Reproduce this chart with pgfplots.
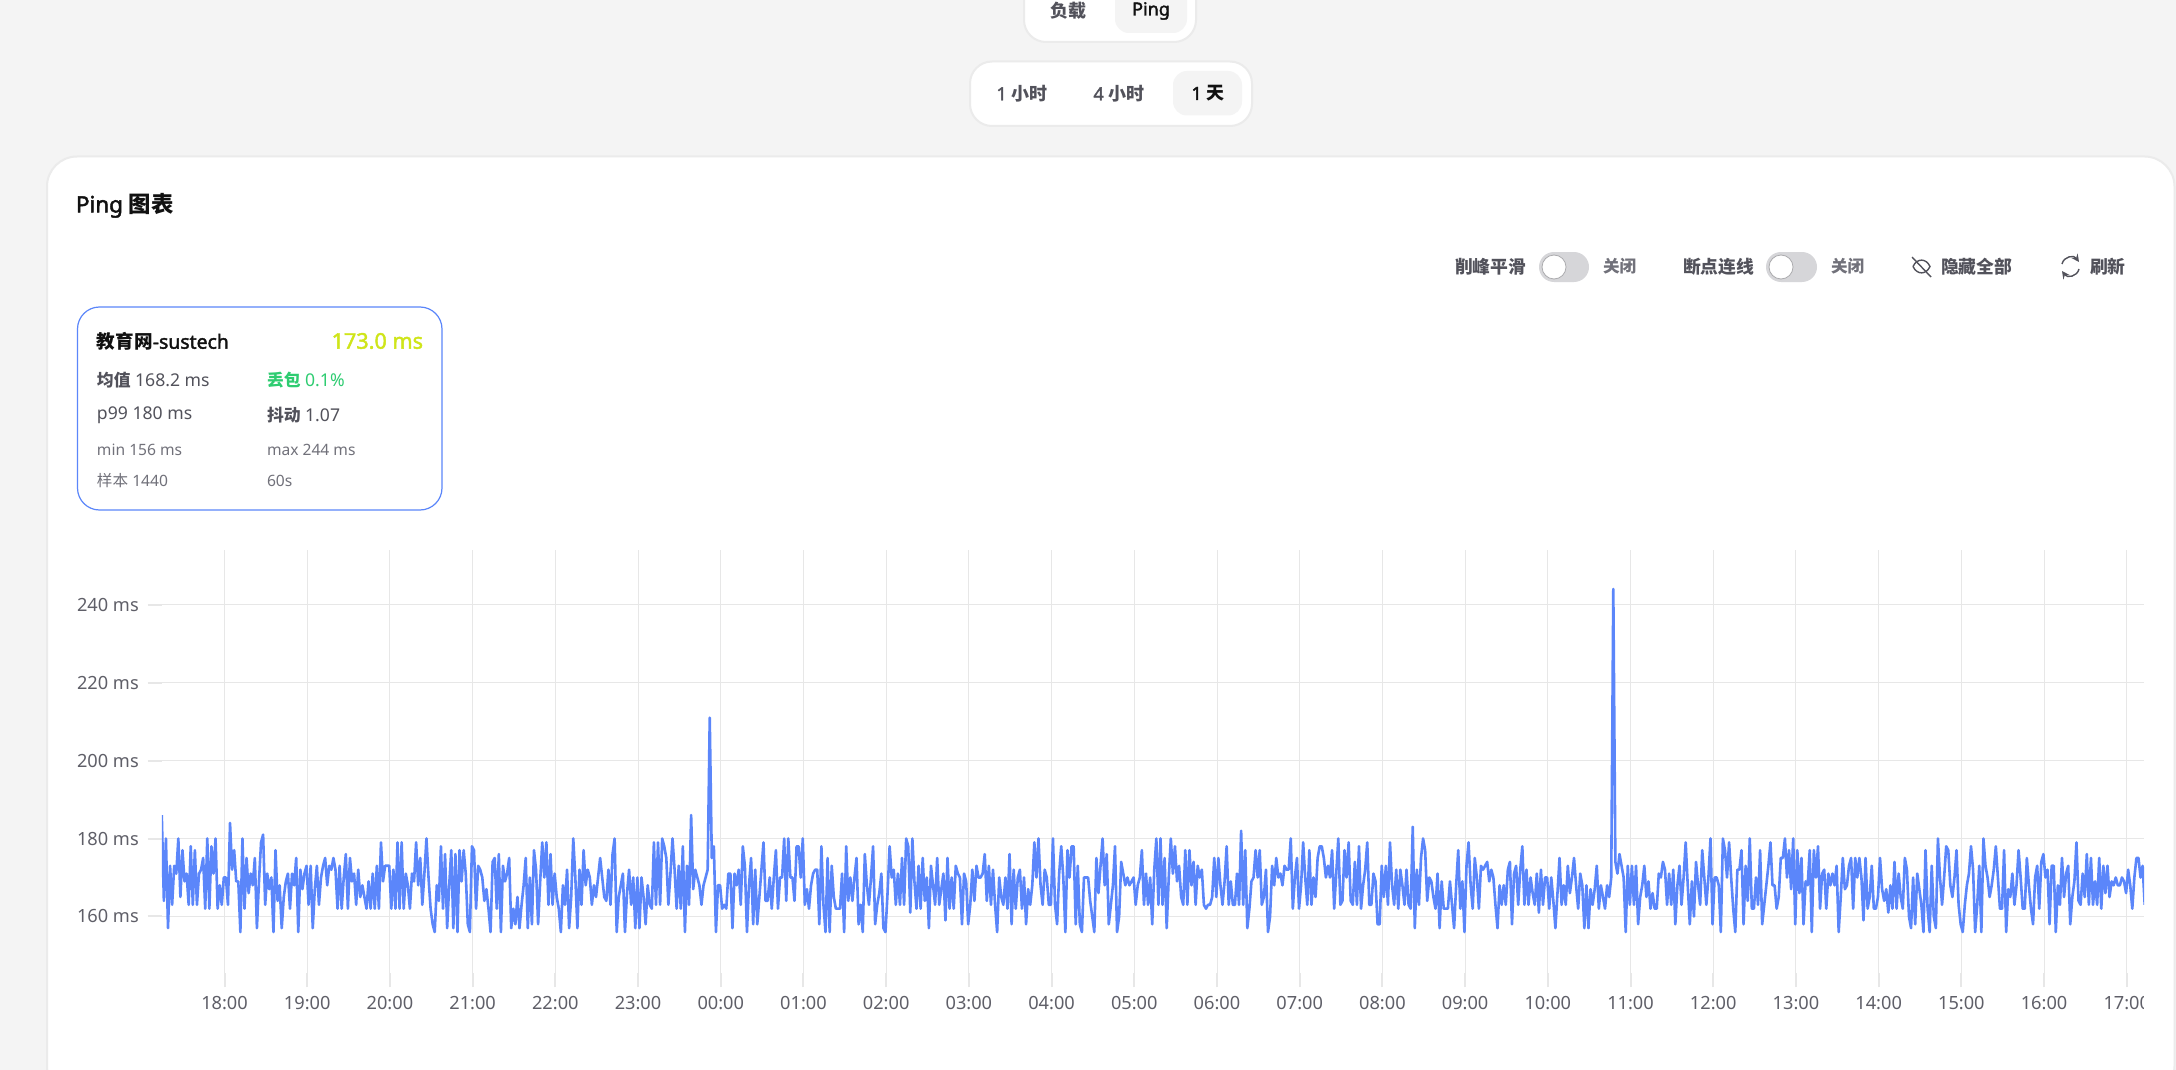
\documentclass[border=0pt]{standalone}
\usepackage{fontspec}
\usepackage{pgfplots}
\pgfplotsset{compat=1.18}
\setmainfont{Noto Sans}[BoldFont=Noto Sans,BoldFeatures={FakeBold=2}]
\newfontfamily\cjk{Noto Sans CJK SC}
\newcommand\fs[1]{\fontsize{#1}{#1}\selectfont}
\definecolor{bg}{HTML}{F4F4F4}
\definecolor{edge}{HTML}{EBEBEB}
\definecolor{gridc}{HTML}{E7E7E7}
\definecolor{tick}{HTML}{5F5F68}
\definecolor{ink}{HTML}{111111}
\definecolor{mid}{HTML}{52525B}
\definecolor{soft}{HTML}{71717A}
\definecolor{blue}{HTML}{5B86FA}
\definecolor{lime}{HTML}{CFE519}
\definecolor{green}{HTML}{2ECC71}
\definecolor{tog}{HTML}{D6D6D9}
\begin{document}
\begin{tikzpicture}
\path[use as bounding box] (0,0) rectangle (1088pt,-535pt);
\clip (0,0) rectangle (1088pt,-535pt);
\fill[bg] (0,0) rectangle (1088pt,-535pt);
\begin{scope}[x=0.5pt,y=-0.5pt,every node/.style={inner sep=0pt,outer sep=0pt}]
% top tabs
\draw[edge,fill=white,line width=1pt,rounded corners=11pt] (1024,-40) rectangle (1196,42);
\fill[bg,rounded corners=7pt] (1115,-30) rectangle (1187,33);
\node[mid] at (1068,11) {\fs{9}\cjk\bfseries 负载};
\node[ink] at (1151,11) {\fs{9}\bfseries Ping};
\draw[edge,fill=white,line width=1pt,rounded corners=11pt] (970,61.5) rectangle (1252,126);
\fill[bg,rounded corners=7pt] (1173,71) rectangle (1242,115.5);
\node[mid] at (1022,93.5) {\fs{9}\bfseries 1 {\cjk 小时}};
\node[mid] at (1119,93.5) {\fs{9}\bfseries 4 {\cjk 小时}};
\node[ink] at (1208,93.5) {\fs{9}\bfseries 1 {\cjk 天}};
% main card
\draw[edge,fill=white,line width=1pt,rounded corners=15pt] (47,156.5) rectangle (2174.5,1096);
\node[ink,anchor=west] at (76,205.5) {\fs{11.2}\bfseries Ping {\cjk 图表}};
% toggles row
\node[mid,anchor=west] at (1455,266.5) {\fs{8.9}\cjk\bfseries 削峰平滑};
\fill[tog,rounded corners=7.5pt] (1539,252) rectangle (1589,282);
\draw[tog!80!black,fill=white,line width=0.4pt] (1554,267) circle (12);
\node[soft,anchor=west] at (1603,266.5) {\fs{8.3}\cjk\bfseries 关闭};
\node[mid,anchor=west] at (1683,266.5) {\fs{8.9}\cjk\bfseries 断点连线};
\fill[tog,rounded corners=7.5pt] (1766,252) rectangle (1817,282);
\draw[tog!80!black,fill=white,line width=0.4pt] (1781,267) circle (12);
\node[soft,anchor=west] at (1831,266.5) {\fs{8.3}\cjk\bfseries 关闭};
% eye-off icon
\draw[mid,line width=0.7pt] (1913,266.5) .. controls (1917,258) and (1926,258) .. (1930,266.5) .. controls (1926,275) and (1917,275) .. (1913,266.5);
\draw[mid,line width=0.7pt] (1912,257) -- (1931,277);
\node[mid,anchor=west] at (1941,266.5) {\fs{8.9}\cjk\bfseries 隐藏全部};
% refresh icon
\draw[mid,line width=0.7pt,-stealth] (2062,264) .. controls (2064,256) and (2074,255) .. (2079,262);
\draw[mid,line width=0.7pt,-stealth] (2079,269) .. controls (2077,277) and (2067,278) .. (2062,271);
\node[mid,anchor=west] at (2090,266.5) {\fs{8.9}\cjk\bfseries 刷新};
% stat card
\draw[blue,fill=white,line width=0.6pt,rounded corners=11pt] (77.5,307) rectangle (442,510);
\node[ink,anchor=west] at (97,341.5) {\fs{9.3}\bfseries {\cjk 教育网}\fs{9.7}-sustech};
\node[lime,anchor=east] at (423,341) {\fs{10.8}\bfseries 173.0 ms};
\node[mid,anchor=west] at (97,380) {\fs{8.8}{\cjk\fs{8.4}\bfseries 均值} 168.2 ms};
\node[green,anchor=west] at (267,380) {\fs{8.8}{\cjk\fs{8.4}\bfseries 丢包} 0.1\%};
\node[mid,anchor=west] at (97,415) {\fs{8.8}p99 180 ms};
\node[mid,anchor=west] at (267,415) {\fs{8.8}{\cjk\fs{8.4}\bfseries 抖动} 1.07};
\node[soft,anchor=west] at (97,449.5) {\fs{7.8}min 156 ms};
\node[soft,anchor=west] at (267,449.5) {\fs{7.8}max 244 ms};
\node[soft,anchor=west] at (97,480.5) {\fs{7.8}{\cjk 样本} 1440};
\node[soft,anchor=west] at (267,480.5) {\fs{7.8}60s};
\end{scope}
\begin{axis}[
  at={(80.9pt,-486.5pt)},anchor=south west,
  scale only axis,width=991.1pt,height=211.5pt,
  xmin=0,xmax=1438,ymin=145.5,ymax=254,
  axis line style={draw=none},
  xtick={45.5,105.5,165.5,225.5,285.5,345.5,405.5,465.5,525.5,585.5,645.5,705.5,765.5,825.5,885.5,945.5,1005.5,1065.5,1125.5,1185.5,1245.5,1305.5,1365.5,1425.5},
  xticklabels={18:00,19:00,20:00,21:00,22:00,23:00,00:00,01:00,02:00,03:00,04:00,05:00,06:00,07:00,08:00,09:00,10:00,11:00,12:00,13:00,14:00,15:00,16:00,17:00},
  ytick={160,180,200,220,240},
  yticklabels={160 ms,180 ms,200 ms,220 ms,240 ms},
  xtick pos=bottom,ytick pos=left,
  grid=major,
  major grid style={gridc,line width=0.5pt},
  tick style={gridc,line width=1pt},
  tick align=outside,
  major tick length=7pt,
  x tick label style={text=tick,font=\fs{9.1},yshift=-1pt},
  y tick label style={text=tick,font=\fs{9.1},xshift=-1pt},
  clip=true,
]
\addplot[blue,line width=1.3pt,line join=round,mark=none] table[row sep=crcr,header=false,x expr=\coordindex*1.5,y index=0]{
186\\164\\180\\157\\173\\163\\173\\171\\180\\165\\177\\169\\171\\163\\178\\163\\177\\163\\171\\172\\175\\162\\180\\162\\178\\171\\180\\162\\168\\163\\
170\\170\\163\\184\\172\\177\\169\\169\\156\\180\\162\\175\\166\\171\\168\\175\\157\\169\\179\\181\\163\\171\\167\\170\\156\\177\\164\\168\\157\\165\\169\\171\\162\\171\\168\\175\\156\\172\\167\\171\\
173\\163\\173\\157\\167\\173\\163\\170\\173\\175\\168\\173\\172\\175\\172\\162\\173\\162\\170\\176\\162\\175\\169\\171\\163\\172\\165\\168\\165\\162\\169\\162\\171\\162\\173\\162\\179\\169\\173\\173\\
173\\162\\172\\162\\179\\162\\179\\162\\171\\168\\162\\171\\169\\179\\168\\175\\163\\171\\180\\170\\162\\158\\156\\168\\164\\178\\162\\176\\157\\168\\177\\157\\176\\156\\177\\169\\177\\171\\158\\156\\
178\\177\\162\\173\\172\\170\\164\\167\\162\\156\\174\\175\\162\\176\\156\\173\\169\\171\\175\\157\\162\\158\\165\\157\\163\\168\\175\\157\\170\\158\\177\\172\\158\\169\\179\\170\\179\\163\\176\\163\\
171\\165\\162\\156\\168\\163\\172\\157\\165\\180\\170\\157\\172\\163\\177\\168\\172\\170\\163\\168\\165\\170\\175\\170\\165\\164\\172\\163\\176\\180\\156\\165\\168\\171\\156\\166\\172\\163\\170\\157\\
170\\157\\170\\165\\158\\168\\163\\162\\179\\163\\179\\163\\180\\178\\175\\163\\171\\180\\172\\162\\173\\162\\178\\156\\173\\163\\186\\167\\172\\170\\168\\163\\168\\170\\172\\211\\175\\178\\156\\168\\
168\\162\\163\\162\\171\\171\\157\\171\\168\\172\\163\\178\\173\\156\\168\\175\\158\\172\\158\\165\\172\\179\\164\\164\\170\\162\\170\\177\\162\\170\\170\\180\\164\\180\\170\\170\\164\\178\\178\\170\\
180\\163\\167\\162\\168\\171\\172\\172\\158\\178\\163\\156\\175\\156\\173\\165\\162\\162\\162\\171\\156\\178\\164\\170\\164\\170\\175\\158\\163\\156\\176\\168\\163\\170\\178\\158\\163\\166\\171\\157\\
156\\166\\178\\170\\172\\163\\171\\163\\175\\163\\180\\178\\161\\180\\169\\162\\173\\162\\175\\164\\170\\157\\173\\168\\163\\175\\163\\167\\171\\159\\175\\162\\170\\162\\173\\171\\170\\158\\171\\169\\
158\\163\\172\\164\\173\\170\\170\\171\\176\\164\\173\\163\\172\\163\\156\\170\\165\\163\\170\\162\\176\\158\\172\\162\\170\\172\\162\\170\\158\\167\\163\\168\\179\\170\\180\\168\\163\\172\\170\\163\\
163\\180\\163\\158\\171\\178\\170\\156\\177\\170\\178\\178\\158\\173\\158\\156\\170\\170\\170\\164\\160\\156\\175\\166\\173\\180\\168\\176\\158\\163\\168\\178\\156\\160\\174\\171\\168\\170\\168\\169\\
170\\163\\168\\170\\177\\163\\171\\163\\170\\158\\172\\180\\163\\180\\163\\175\\157\\170\\180\\171\\178\\169\\173\\165\\163\\177\\163\\177\\168\\174\\163\\173\\170\\172\\163\\162\\163\\163\\165\\175\\
165\\175\\168\\163\\169\\178\\163\\169\\163\\163\\171\\163\\182\\163\\177\\157\\162\\169\\170\\177\\170\\177\\163\\165\\172\\156\\160\\173\\168\\175\\170\\171\\168\\173\\172\\172\\180\\162\\170\\175\\
162\\168\\179\\170\\163\\177\\163\\170\\165\\175\\178\\178\\175\\170\\173\\170\\177\\162\\171\\180\\163\\164\\177\\170\\179\\164\\163\\174\\163\\178\\162\\168\\172\\179\\163\\163\\171\\169\\158\\158\\
173\\165\\173\\163\\179\\168\\163\\172\\162\\172\\168\\163\\172\\163\\162\\183\\157\\172\\163\\175\\180\\177\\164\\170\\169\\165\\162\\171\\157\\169\\162\\162\\162\\169\\163\\157\\168\\177\\162\\169\\
156\\173\\179\\168\\162\\175\\170\\162\\173\\172\\173\\174\\169\\172\\170\\163\\157\\168\\163\\168\\163\\172\\174\\158\\171\\173\\163\\172\\178\\163\\172\\163\\170\\166\\163\\171\\161\\172\\163\\170\\
170\\162\\170\\164\\157\\166\\175\\163\\168\\163\\173\\166\\170\\175\\168\\162\\171\\168\\157\\168\\157\\167\\163\\167\\173\\162\\168\\165\\162\\168\\165\\170\\244\\174\\171\\176\\173\\170\\156\\173\\
163\\173\\163\\173\\158\\165\\168\\173\\165\\169\\162\\166\\162\\162\\171\\170\\174\\172\\163\\171\\163\\172\\158\\168\\173\\163\\170\\179\\168\\158\\169\\160\\174\\168\\163\\177\\170\\163\\170\\180\\
158\\170\\170\\168\\156\\180\\177\\170\\179\\170\\162\\156\\172\\172\\177\\158\\173\\164\\180\\162\\162\\170\\163\\177\\158\\163\\168\\173\\179\\168\\168\\162\\165\\175\\175\\180\\170\\177\\167\\180\\
158\\177\\166\\175\\158\\169\\168\\177\\156\\177\\170\\178\\162\\171\\172\\162\\171\\168\\171\\168\\173\\156\\165\\175\\167\\168\\173\\175\\162\\175\\170\\175\\170\\159\\175\\162\\165\\173\\162\\162\\
165\\175\\167\\164\\167\\161\\168\\162\\174\\162\\171\\165\\162\\175\\172\\160\\157\\170\\158\\171\\167\\163\\156\\177\\162\\156\\173\\160\\157\\180\\170\\163\\170\\178\\177\\168\\165\\170\\177\\163\\
158\\156\\163\\168\\171\\178\\172\\156\\163\\173\\156\\180\\173\\170\\165\\168\\172\\178\\170\\162\\162\\177\\156\\167\\165\\171\\163\\168\\177\\170\\162\\162\\175\\168\\162\\158\\170\\173\\162\\174\\
176\\170\\172\\158\\173\\173\\156\\168\\163\\175\\165\\171\\173\\158\\165\\169\\179\\164\\163\\171\\165\\176\\163\\175\\163\\169\\163\\175\\162\\173\\166\\173\\165\\169\\168\\170\\168\\168\\170\\169\\
166\\172\\168\\162\\170\\175\\175\\170\\173\\163\\
};
\end{axis}
\fill[white] (1072pt,-495pt) rectangle (1086pt,-510pt);
\end{tikzpicture}
\end{document}
